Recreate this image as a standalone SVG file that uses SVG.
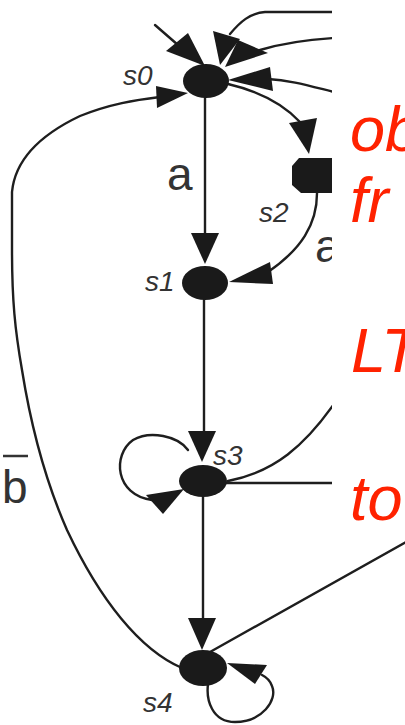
<svg xmlns="http://www.w3.org/2000/svg" width="405" height="725" viewBox="0 0 405 725">
<style>
.edge{fill:none;stroke:#1e1e1e;stroke-width:2.4;stroke-linecap:round}
.head{fill:#1a1a1a}
.node{fill:#1a1a1a}
.lbl{font-family:"Liberation Sans",Arial,sans-serif;font-style:italic;font-size:28px;fill:#333}
.elbl{font-family:"Liberation Sans",Arial,sans-serif;font-size:46px;fill:#333}
.red{font-family:"Liberation Sans",Arial,sans-serif;font-style:italic;font-size:63px;fill:#ff2200}
</style>
<defs>
<clipPath id="clip"><rect x="0" y="0" width="332" height="725"/></clipPath>
</defs>
<rect width="405" height="725" fill="#fff"/>
<g id="connectors">
<g clip-path="url(#clip)">
<path class="edge" d="M155,25 L178,45"/>
<polygon class="head" points="166,51 188,33 205,66"/>
<path class="edge" d="M334,12 L265,12 C250,13 240,22 230,34"/>
<polygon class="head" points="213,31 240,39 220,65"/>
<path class="edge" d="M334,38 C300,40 280,44 260,50"/>
<polygon class="head" points="238,40 268,53 225,67"/>
<path class="edge" d="M334,92 C310,86 290,80 268,79"/>
<polygon class="head" points="270,67 273,91 228,80"/>
<path class="edge" d="M228,84 Q275,95 300,122"/>
<polygon class="head" points="289,123 317,118 309,154"/>
<path class="edge" d="M317,190 C318,225 300,250 268,272"/>
<polygon class="head" points="270,262 273,284 229,282"/>
<path class="edge" d="M228,481 C275,472 305,445 334,404"/>
<path class="edge" d="M225,483 L334,483"/>
</g>
<path class="edge" d="M205,96 L205,236"/>
<polygon class="head" points="191,233 219,233 205,264"/>
<path class="edge" d="M204,300 L204,434"/>
<polygon class="head" points="188,431 216,431 202,462"/>
<path class="edge" d="M203,497 L203,621"/>
<polygon class="head" points="188,618 216,618 202,650"/>
<path class="edge" d="M188,450 C178,436 150,430 133,440 C112,455 115,495 152,500"/>
<polygon class="head" points="146,495 163,514 184,489"/>
<path class="edge" d="M210,652 L406,542"/>
<path class="edge" d="M208,684 C206,700 212,722 235,722 C262,722 278,700 272,686 C270,680 266,677 262,675"/>
<polygon class="head" points="227,663 267,665 255,684"/>
<path class="edge" d="M182,668 C140,650 100,600 67,530 C45,480 30,420 22,370 C15,330 12,300 12,250 L12,192 C15,160 40,135 80,116 C110,104 135,100 160,97"/>
<polygon class="head" points="156,86 157,108 188,93"/>
</g>
<g id="s0">
<ellipse class="node" cx="206" cy="81" rx="23" ry="17"/>
<text class="lbl" x="123" y="85">s0</text>
</g>
<g id="s1">
<ellipse class="node" cx="205" cy="283" rx="23" ry="17"/>
<text class="lbl" x="145" y="291">s1</text>
</g>
<g id="s2">
<polygon class="node" points="299,158 332,158 332,193 301,193 292,185 292,166"/>
<text class="lbl" x="259" y="222">s2</text>
</g>
<g id="s3">
<ellipse class="node" cx="203" cy="481" rx="24" ry="16"/>
<text class="lbl" x="213" y="465">s3</text>
</g>
<g id="s4">
<ellipse class="node" cx="203" cy="668" rx="24" ry="18"/>
<text class="lbl" x="143" y="712">s4</text>
</g>
<g id="edge-labels">
<text class="elbl" x="167" y="190">a</text>
<text class="elbl" x="315" y="262" clip-path="url(#clip)">a</text>
<text class="elbl" x="2" y="503">b</text>
<line x1="3" y1="456" x2="28" y2="456" stroke="#333" stroke-width="2.5"/>
</g>
<g id="red-text">
<text class="red" x="350" y="151">ob</text>
<text class="red" x="350" y="222">fr</text>
<text class="red" x="351" y="372">LT</text>
<text class="red" x="350" y="520">to</text>
</g>
</svg>
